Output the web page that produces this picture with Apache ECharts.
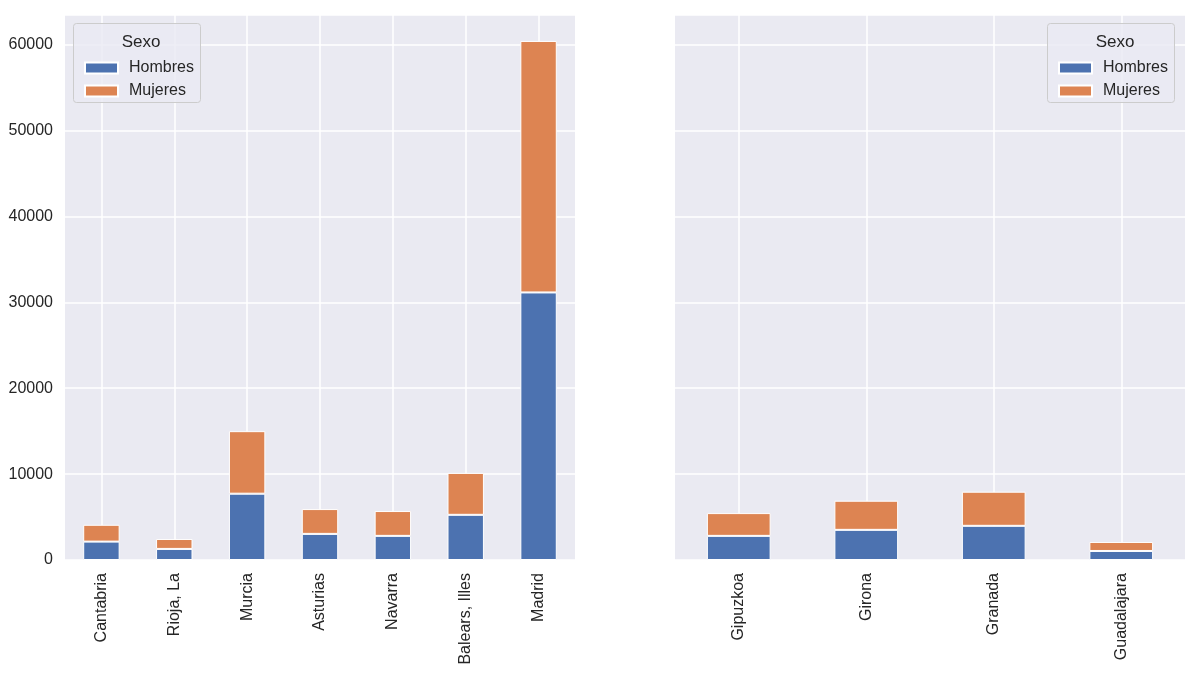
<!DOCTYPE html>
<html>
<head>
<meta charset="utf-8">
<script src="https://cdn.jsdelivr.net/npm/echarts@6/dist/echarts.min.js"></script>
<style>
html, body { margin: 0; padding: 0; background: #fff; }
#chart { width: 1197px; height: 674px; }
</style>
</head>
<body>
<div id="chart"></div>
<script>
// provincias del panel izquierdo
const provLeft = ['Cantabria', 'Rioja, La', 'Murcia', 'Asturias', 'Navarra', 'Balears, Illes', 'Madrid']
const hombresLeft = [2140, 1290, 7720, 3040, 2810, 5260, 31150]
const mujeresLeft = [1960, 1160, 7280, 2890, 2890, 4880, 29280]
// provincias del panel derecho
const provRight = ['Gipuzkoa', 'Girona', 'Granada', 'Guadalajara']
const hombresRight = [2810, 3510, 3980, 1050]
const mujeresRight = [2650, 3390, 3970, 1050]
const yMax = 63450
const yStep = 10000

const FONT = 'Liberation Sans, Arial, sans-serif'
const TXT = '#262626'
const COLORS = ['#4C72B0', '#DD8452']

const chart = echarts.init(document.getElementById('chart'))

const xAxisBase = (gridIndex, data) => ({
    gridIndex: gridIndex,
    type: 'category',
    data: data,
    axisLine: { show: false },
    axisTick: { show: false },
    axisLabel: { rotate: 90, margin: 13, color: TXT, fontSize: 16, fontFamily: FONT },
    splitLine: { show: true, alignWithLabel: true, lineStyle: { color: '#fff', width: 1.5 } }
})
const yAxisBase = (gridIndex, showLabels) => ({
    gridIndex: gridIndex,
    type: 'value',
    min: 0,
    max: yMax,
    interval: yStep,
    axisLine: { show: false },
    axisTick: { show: false },
    axisLabel: {
        show: showLabels, showMaxLabel: false, margin: 12,
        color: TXT, fontSize: 16, fontFamily: FONT,
        formatter: (v) => String(v)
    },
    splitLine: { show: true, lineStyle: { color: '#fff', width: 1.5 } }
})
const barBase = {
    type: 'bar',
    barWidth: '50%',
    itemStyle: { borderColor: '#fff', borderWidth: 1 }
}
const legendBase = (left) => ({
    orient: 'vertical',
    left: left,
    top: 55,
    itemWidth: 33,
    itemHeight: 11,
    itemGap: 7,
    icon: 'rect',
    z: 5,
    textStyle: { color: TXT, fontSize: 16, fontFamily: FONT, padding: [0, 0, 0, 6] },
    data: ['Hombres', 'Mujeres']
})
const legendBox = (x) => ({
    type: 'rect',
    left: x,
    top: 23,
    shape: { width: 127, height: 79, r: 3 },
    style: { fill: 'rgba(234,234,242,0.8)', stroke: '#cccccc', lineWidth: 1 },
    z: 3
})

const option = {
    backgroundColor: '#fff',
    color: COLORS,
    animation: false,
    grid: [
        { left: 65, top: 15, width: 510, height: 545, backgroundColor: '#EAEAF2', show: true, borderWidth: 0 },
        { left: 675, top: 15, width: 510, height: 545, backgroundColor: '#EAEAF2', show: true, borderWidth: 0 }
    ],
    title: [
        { text: 'Sexo', left: 136, top: 29, textAlign: 'center', z: 5, textStyle: { color: TXT, fontSize: 17, fontWeight: 'normal', fontFamily: FONT } },
        { text: 'Sexo', left: 1110, top: 29, textAlign: 'center', z: 5, textStyle: { color: TXT, fontSize: 17, fontWeight: 'normal', fontFamily: FONT } }
    ],
    legend: [legendBase(79), legendBase(1053)],
    graphic: [legendBox(73), legendBox(1047)],
    xAxis: [xAxisBase(0, provLeft), xAxisBase(1, provRight)],
    yAxis: [yAxisBase(0, true), yAxisBase(1, false)],
    series: [
        Object.assign({}, barBase, { name: 'Hombres', xAxisIndex: 0, yAxisIndex: 0, stack: 'izq', data: hombresLeft }),
        Object.assign({}, barBase, { name: 'Mujeres', xAxisIndex: 0, yAxisIndex: 0, stack: 'izq', data: mujeresLeft }),
        Object.assign({}, barBase, { name: 'Hombres', xAxisIndex: 1, yAxisIndex: 1, stack: 'der', data: hombresRight }),
        Object.assign({}, barBase, { name: 'Mujeres', xAxisIndex: 1, yAxisIndex: 1, stack: 'der', data: mujeresRight })
    ]
}
chart.setOption(option)
</script>
</body>
</html>
